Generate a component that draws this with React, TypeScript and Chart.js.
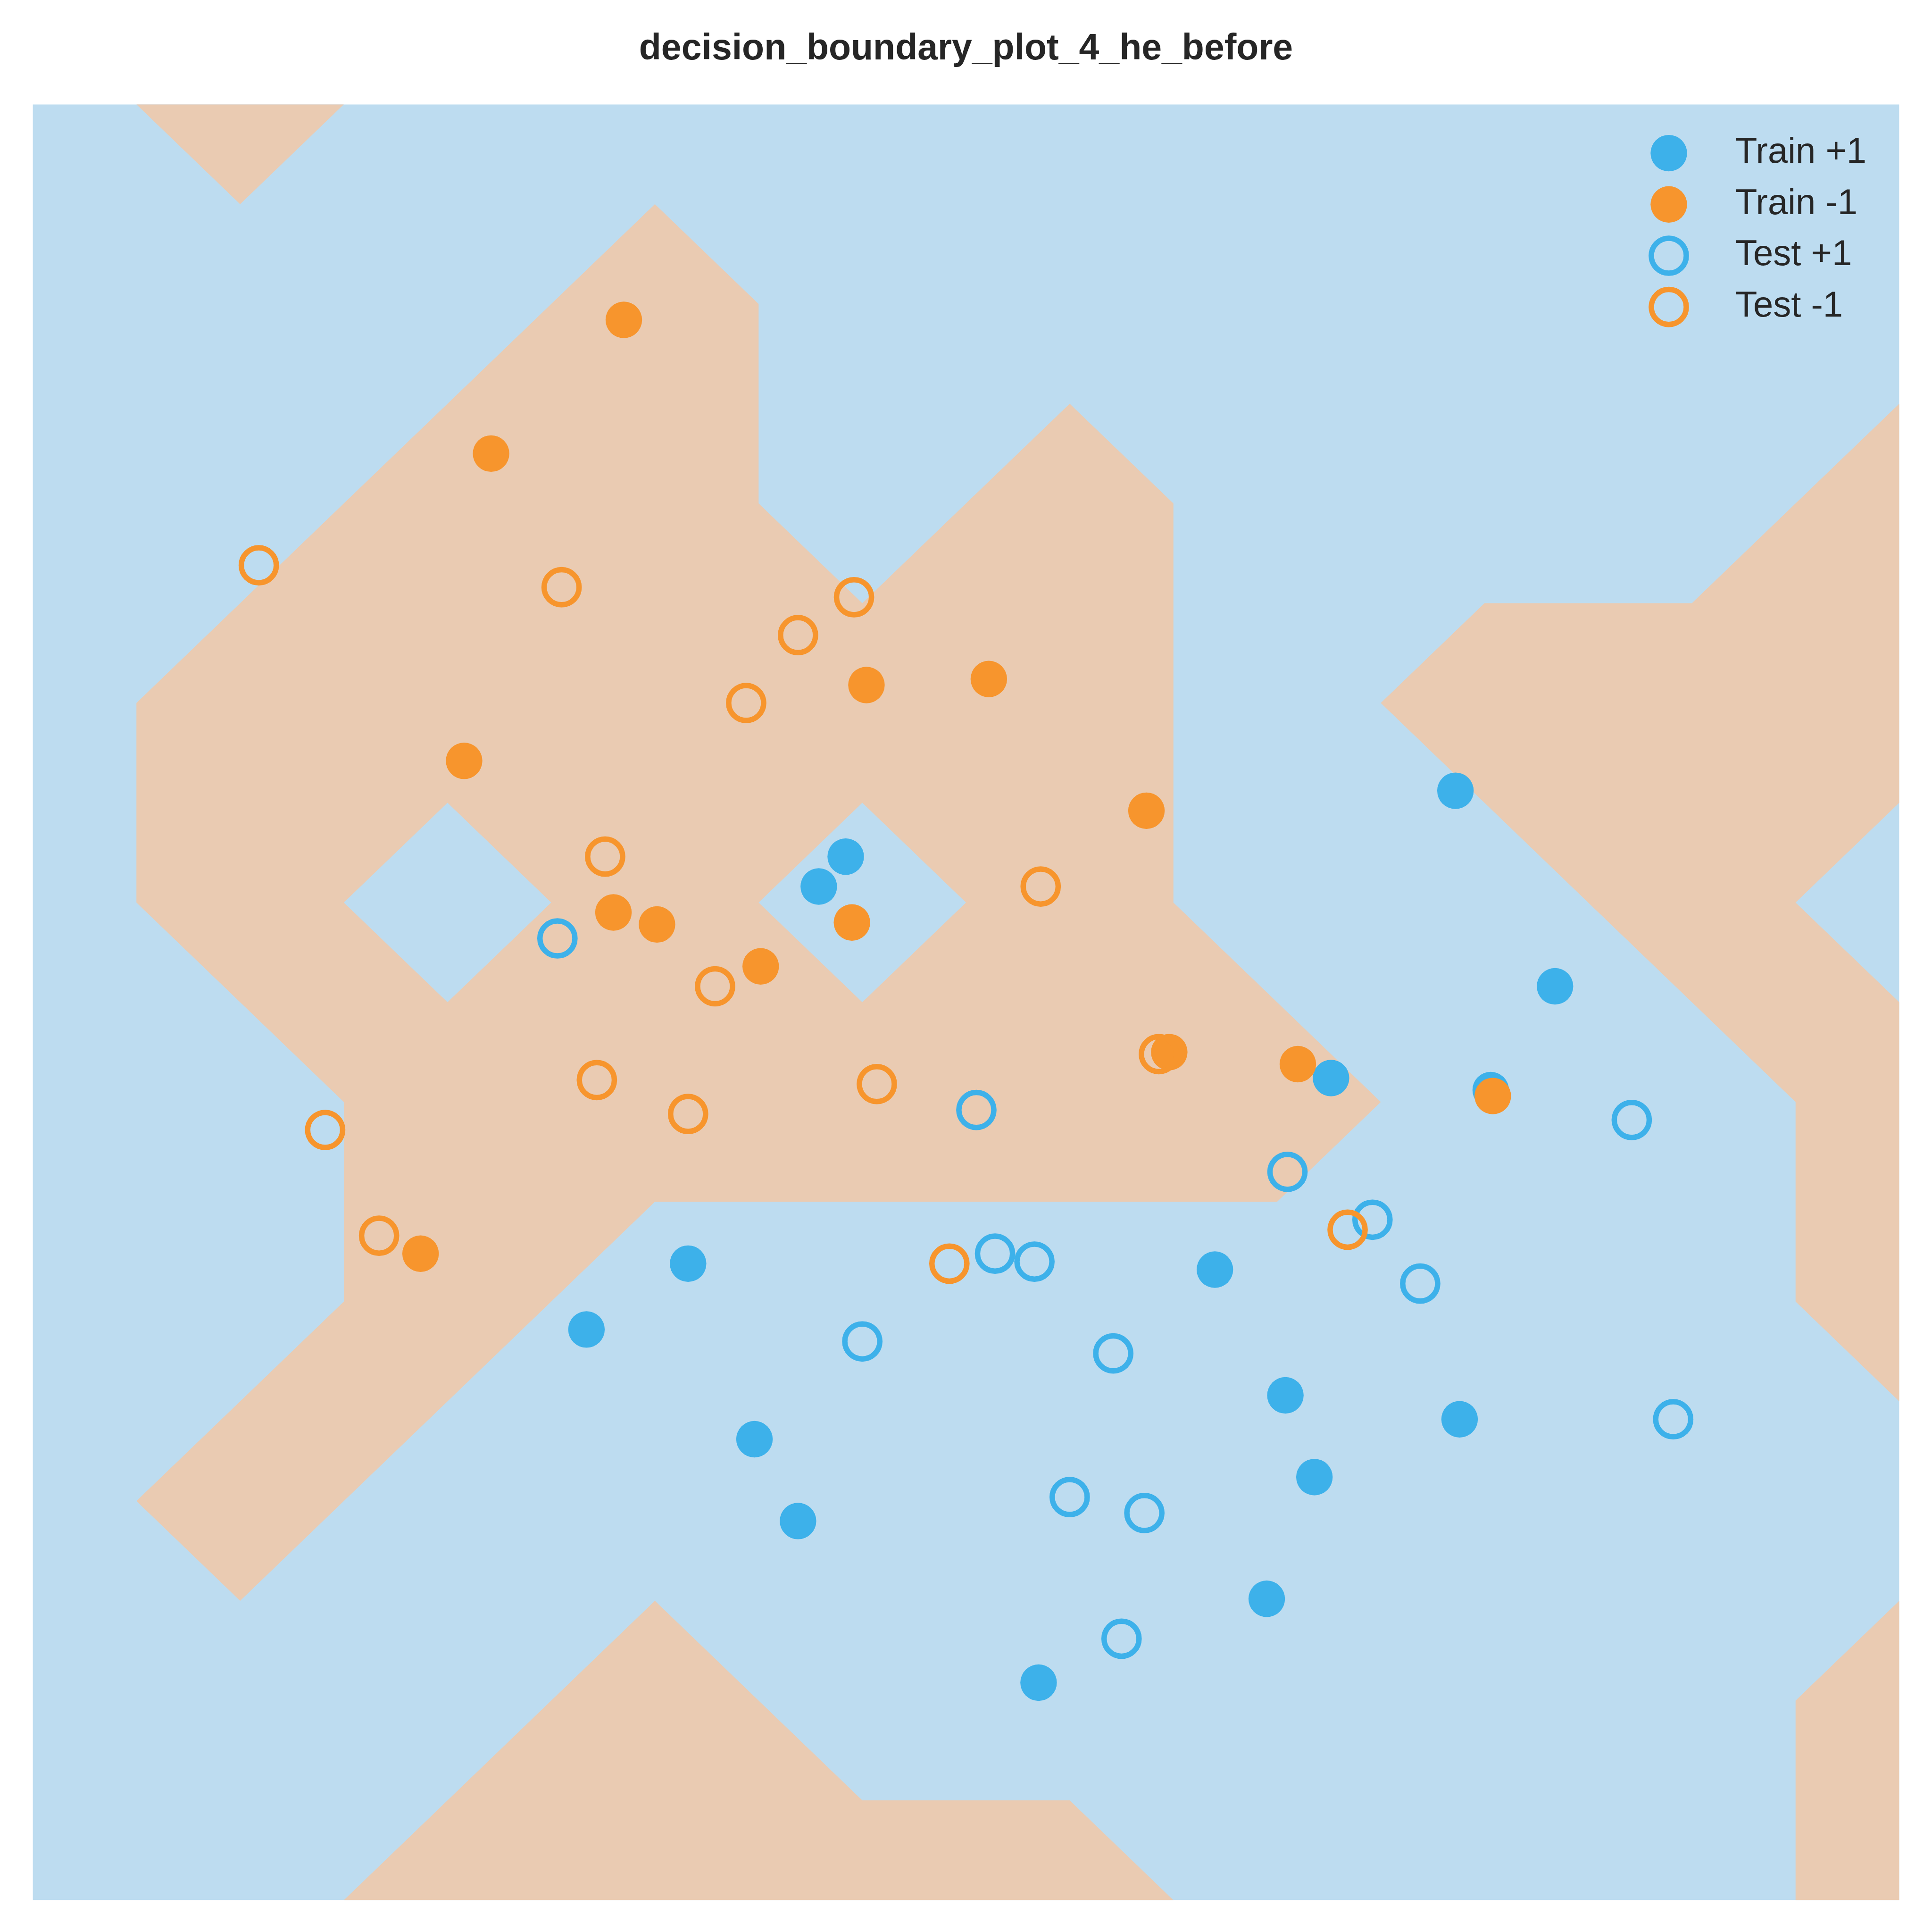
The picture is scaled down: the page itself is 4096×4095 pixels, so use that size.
import React, { useEffect, useRef } from "react";
import { Chart, registerables } from "chart.js";

Chart.register(...registerables);

// Decision grid (rows listed top to bottom); -1 = class "-1" region, +1 = class "+1" region
const gridX = [0, 1, 2, 3, 4, 5, 6, 7, 8, 9];
const gridY = [9, 8, 7, 6, 5, 4, 3, 2, 1, 0];
const gridLabels = [
  [1, -1, 1, 1, 1, 1, 1, 1, 1, 1],
  [1, 1, 1, -1, 1, 1, 1, 1, 1, 1],
  [1, 1, -1, -1, 1, -1, 1, 1, 1, -1],
  [1, -1, -1, -1, -1, -1, 1, -1, -1, -1],
  [1, -1, 1, -1, 1, -1, 1, 1, -1, 1],
  [1, 1, -1, -1, -1, -1, -1, 1, 1, -1],
  [1, 1, -1, 1, 1, 1, 1, 1, 1, -1],
  [1, -1, 1, 1, 1, 1, 1, 1, 1, 1],
  [1, 1, 1, -1, 1, 1, 1, 1, 1, -1],
  [1, 1, -1, -1, -1, -1, 1, 1, 1, -1],
];

const trainPosX = [6.86, 3.92, 3.79, 7.34, 6.26, 7.03, 3.16, 5.70, 2.67, 6.04, 6.88, 3.48, 6.18, 3.69, 5.95, 4.85];
const trainPosY = [5.56, 5.23, 5.08, 4.58, 4.12, 4.06, 3.19, 3.16, 2.86, 2.53, 2.41, 2.31, 2.12, 1.90, 1.51, 1.09];

const trainNegX = [2.85, 2.21, 4.02, 4.61, 2.08, 5.37, 2.80, 3.01, 3.95, 3.51, 5.48, 6.10, 7.04, 1.87];
const trainNegY = [7.92, 7.25, 6.09, 6.12, 5.71, 5.46, 4.95, 4.89, 4.90, 4.68, 4.25, 4.19, 4.03, 3.24];

const testPosX = [2.53, 4.55, 6.05, 6.46, 7.71, 4.64, 4.83, 6.69, 4.00, 5.21, 7.91, 5.00, 5.36, 5.25];
const testPosY = [4.82, 3.96, 3.65, 3.41, 3.91, 3.24, 3.20, 3.09, 2.80, 2.74, 2.41, 2.02, 1.94, 1.31];

const testNegX = [1.09, 2.55, 3.96, 3.69, 3.44, 2.76, 4.86, 3.29, 5.43, 2.72, 4.07, 3.16, 1.41, 1.67, 6.34, 4.42];
const testNegY = [6.69, 6.58, 6.53, 6.34, 6.00, 5.23, 5.08, 4.58, 4.24, 4.11, 4.09, 3.94, 3.86, 3.33, 3.36, 3.19];

const seriesLabels = ["Train +1", "Train -1", "Test +1", "Test -1"];
const chartTitle = "decision_boundary_plot_4_he_before";

const BLUE = "#3DB1EA";
const ORANGE = "#F7952D";
const BLUE_BG = "#BDDCF0";
const ORANGE_BG = "#EACBB2";
const TEXT = "#262626";
const FONT = "'Liberation Sans', Arial, sans-serif";

const toPoints = (xs: number[], ys: number[]) => xs.map((x, i) => ({ x, y: ys[i] }));

const regionPlugin = {
  id: "regions",
  beforeDatasetsDraw(chart: any) {
    const { ctx, chartArea, scales } = chart;
    const sx = scales.x;
    const sy = scales.y;
    const w = chartArea.right - chartArea.left;
    const h = chartArea.bottom - chartArea.top;
    ctx.save();
    ctx.beginPath();
    ctx.rect(chartArea.left, chartArea.top, w, h);
    ctx.clip();
    ctx.fillStyle = BLUE_BG;
    ctx.fillRect(chartArea.left, chartArea.top, w, h);
    ctx.beginPath();
    const rows = gridLabels.length;
    const cols = gridLabels[0].length;
    for (let j = 0; j < rows - 1; j++) {
      for (let i = 0; i < cols - 1; i++) {
        const corners = [
          [i, j],
          [i + 1, j],
          [i + 1, j + 1],
          [i, j + 1],
        ];
        const pts: number[][] = [];
        for (let k = 0; k < 4; k++) {
          const a = corners[k];
          const b = corners[(k + 1) % 4];
          const la = gridLabels[a[1]][a[0]];
          const lb = gridLabels[b[1]][b[0]];
          const ax = sx.getPixelForValue(gridX[a[0]]);
          const ay = sy.getPixelForValue(gridY[a[1]]);
          const bx = sx.getPixelForValue(gridX[b[0]]);
          const by = sy.getPixelForValue(gridY[b[1]]);
          if (la < 0) pts.push([ax, ay]);
          if (la !== lb) {
            const t = (0 - la) / (lb - la);
            pts.push([ax + (bx - ax) * t, ay + (by - ay) * t]);
          }
        }
        if (pts.length >= 3) {
          ctx.moveTo(pts[0][0], pts[0][1]);
          for (let p = 1; p < pts.length; p++) ctx.lineTo(pts[p][0], pts[p][1]);
          ctx.closePath();
        }
      }
    }
    ctx.fillStyle = ORANGE_BG;
    ctx.fill("nonzero");
    ctx.restore();
  },
};

const legendTitlePlugin = {
  id: "insideLegendAndTitle",
  afterDatasetsDraw(chart: any) {
    const { ctx, chartArea } = chart;
    const markerX = chartArea.right - 488.6;
    const textX = chartArea.right - 347.6;
    const firstY = chartArea.top + 103.3;
    const rowGap = 108.7;
    ctx.save();
    chart.data.datasets.forEach((ds: any, idx: number) => {
      const cy = firstY + idx * rowGap;
      ctx.beginPath();
      ctx.arc(markerX, cy, ds.pointRadius, 0, Math.PI * 2);
      if (ds.borderWidth > 0) {
        ctx.lineWidth = ds.borderWidth;
        ctx.strokeStyle = ds.borderColor;
        ctx.stroke();
      } else {
        ctx.fillStyle = ds.backgroundColor;
        ctx.fill();
      }
      ctx.fillStyle = TEXT;
      ctx.font = `76px ${FONT}`;
      ctx.textAlign = "left";
      ctx.textBaseline = "alphabetic";
      ctx.fillText(ds.label, textX, cy + 20.4);
    });
    // title
    ctx.fillStyle = TEXT;
    ctx.font = `bold 77px ${FONT}`;
    ctx.textAlign = "center";
    ctx.textBaseline = "alphabetic";
    ctx.fillText(chartTitle, (chartArea.left + chartArea.right) / 2, 126.4);
    ctx.restore();
  },
};

export default function App() {
  const canvasRef = useRef<HTMLCanvasElement | null>(null);

  useEffect(() => {
    document.body.style.margin = "0";
    const canvas = canvasRef.current;
    if (!canvas) return;
    const chart = new Chart(canvas, {
      type: "scatter",
      data: {
        datasets: [
          {
            label: seriesLabels[0],
            data: toPoints(trainPosX, trainPosY),
            backgroundColor: BLUE,
            borderColor: BLUE,
            borderWidth: 0,
            pointRadius: 38.7,
            order: 4,
          },
          {
            label: seriesLabels[1],
            data: toPoints(trainNegX, trainNegY),
            backgroundColor: ORANGE,
            borderColor: ORANGE,
            borderWidth: 0,
            pointRadius: 38.7,
            order: 3,
          },
          {
            label: seriesLabels[2],
            data: toPoints(testPosX, testPosY),
            backgroundColor: "rgba(0,0,0,0)",
            borderColor: BLUE,
            borderWidth: 11.5,
            pointRadius: 37.1,
            order: 2,
          },
          {
            label: seriesLabels[3],
            data: toPoints(testNegX, testNegY),
            backgroundColor: "rgba(0,0,0,0)",
            borderColor: ORANGE,
            borderWidth: 11.5,
            pointRadius: 37.1,
            order: 1,
          },
        ] as any,
      },
      options: {
        animation: false,
        responsive: false,
        devicePixelRatio: 1,
        events: [],
        layout: { padding: { left: 69.4, right: 69.4, top: 221.3, bottom: 67.6 } },
        scales: {
          x: { type: "linear", min: gridX[0], max: gridX[gridX.length - 1], display: false },
          y: { type: "linear", min: gridY[gridY.length - 1], max: gridY[0], display: false },
        },
        plugins: {
          legend: { display: false },
          tooltip: { enabled: false },
          title: { display: false, text: chartTitle },
        },
      } as any,
      plugins: [regionPlugin, legendTitlePlugin],
    });
    return () => chart.destroy();
  }, []);

  return (
    <div style={{ width: 4096, height: 4095, background: "#ffffff" }}>
      <canvas ref={canvasRef} width={4096} height={4095} style={{ display: "block" }} />
    </div>
  );
}
